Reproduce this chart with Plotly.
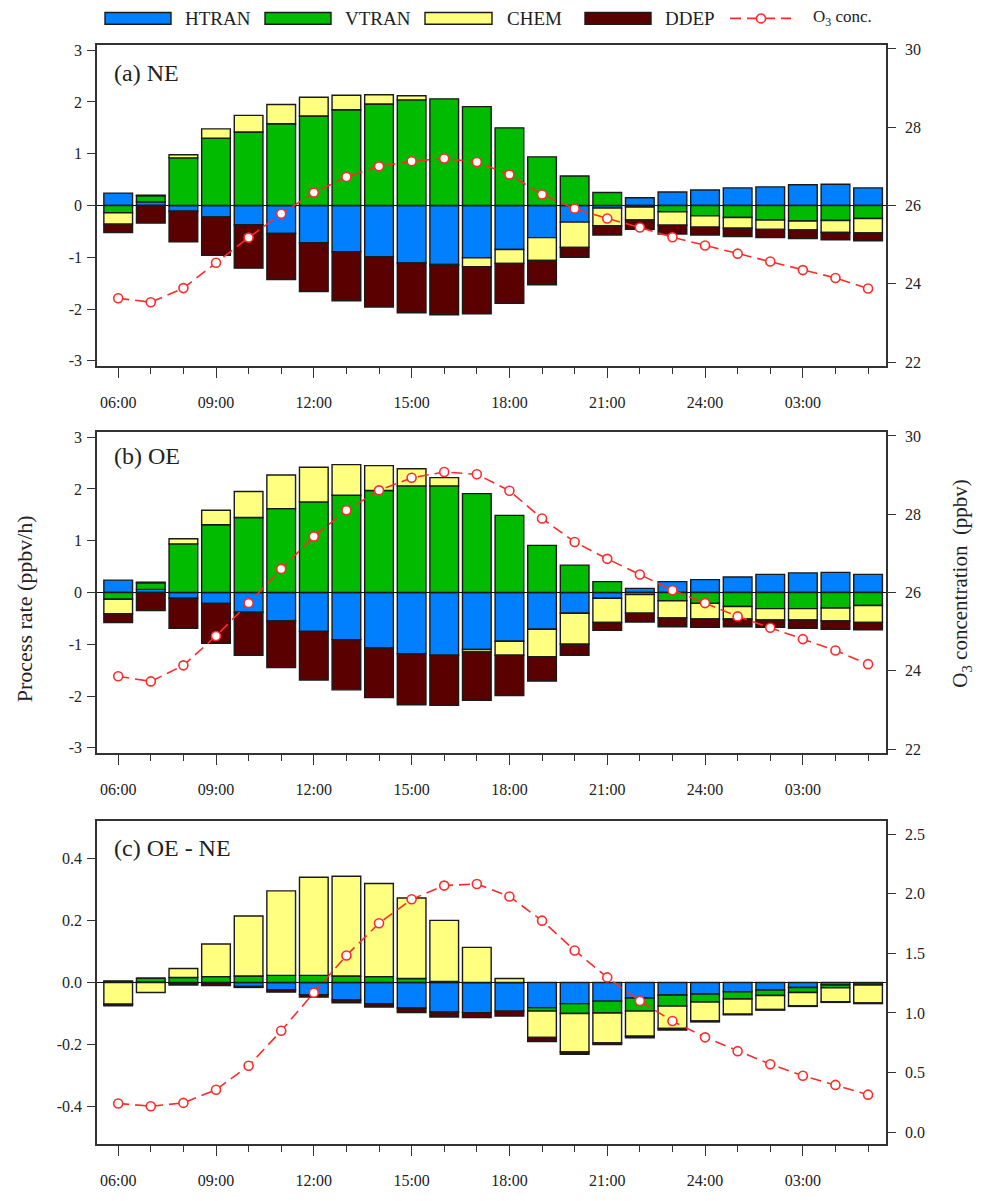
import plotly.graph_objects as go

hours = ['06:00', '07:00', '08:00', '09:00', '10:00', '11:00', '12:00', '13:00',
         '14:00', '15:00', '16:00', '17:00', '18:00', '19:00', '20:00', '21:00',
         '22:00', '23:00', '24:00', '01:00', '02:00', '03:00', '04:00', '05:00']
xi = list(range(len(hours)))

# (a) NE
ne_htran = [0.24, 0.07, -0.11, -0.22, -0.37, -0.54, -0.72, -0.89, -0.99, -1.11, -1.14, -1.01,
            -0.85, -0.62, -0.32, -0.05, 0.15, 0.26, 0.30, 0.34, 0.36, 0.40, 0.41, 0.34]
ne_vtran = [-0.14, 0.12, 0.92, 1.30, 1.42, 1.58, 1.73, 1.85, 1.96, 2.04, 2.06, 1.91,
            1.50, 0.94, 0.57, 0.25, -0.03, -0.12, -0.20, -0.23, -0.28, -0.30, -0.29, -0.25]
ne_chem = [-0.22, 0.01, 0.06, 0.18, 0.32, 0.37, 0.36, 0.28, 0.18, 0.08, -0.02, -0.17,
           -0.27, -0.44, -0.49, -0.34, -0.25, -0.26, -0.22, -0.21, -0.18, -0.17, -0.23, -0.28]
ne_ddep = [-0.16, -0.34, -0.59, -0.74, -0.84, -0.89, -0.94, -0.95, -0.97, -0.96, -0.95, -0.91,
           -0.77, -0.47, -0.19, -0.18, -0.18, -0.17, -0.15, -0.16, -0.16, -0.17, -0.14, -0.15]
ne_o3 = [23.63, 23.53, 23.89, 24.54, 25.18, 25.79, 26.33, 26.73, 27.00, 27.13, 27.20, 27.11,
         26.79, 26.28, 25.92, 25.67, 25.44, 25.19, 24.98, 24.77, 24.57, 24.35, 24.15, 23.88]

# (b) OE
oe_htran = [0.24, 0.06, -0.11, -0.21, -0.38, -0.55, -0.75, -0.91, -1.07, -1.18, -1.21, -1.10,
            -0.94, -0.71, -0.40, -0.11, 0.08, 0.21, 0.25, 0.30, 0.35, 0.38, 0.39, 0.35]
oe_vtran = [-0.13, 0.13, 0.94, 1.31, 1.45, 1.62, 1.75, 1.88, 1.97, 2.06, 2.06, 1.91,
            1.49, 0.91, 0.53, 0.21, -0.04, -0.16, -0.21, -0.27, -0.31, -0.31, -0.30, -0.25]
oe_chem = [-0.28, 0.01, 0.10, 0.28, 0.50, 0.65, 0.67, 0.59, 0.48, 0.33, 0.16, -0.05,
           -0.27, -0.53, -0.60, -0.47, -0.36, -0.33, -0.30, -0.24, -0.22, -0.22, -0.25, -0.33]
oe_ddep = [-0.17, -0.35, -0.58, -0.77, -0.83, -0.90, -0.94, -0.97, -0.96, -0.99, -0.97, -0.93,
           -0.78, -0.47, -0.21, -0.15, -0.17, -0.17, -0.16, -0.15, -0.14, -0.16, -0.16, -0.14]
oe_o3 = [23.86, 23.73, 24.14, 24.89, 25.73, 26.60, 27.43, 28.10, 28.61, 28.93, 29.08, 29.02,
         28.60, 27.89, 27.29, 26.86, 26.46, 26.06, 25.73, 25.39, 25.10, 24.81, 24.52, 24.17]

# (c) OE - NE
df_htran = [0.003, 0.002, -0.003, -0.003, -0.013, -0.023, -0.039, -0.056, -0.068, -0.082, -0.095, -0.097,
            -0.092, -0.081, -0.068, -0.060, -0.050, -0.040, -0.037, -0.030, -0.024, -0.016, -0.008, -0.002]
df_vtran = [0.002, 0.012, 0.016, 0.019, 0.021, 0.023, 0.023, 0.021, 0.019, 0.013, 0.003, 0.0,
            0.0, -0.011, -0.032, -0.038, -0.042, -0.036, -0.026, -0.023, -0.018, -0.016, -0.009, -0.006]
df_chem = [-0.070, -0.032, 0.029, 0.105, 0.193, 0.272, 0.316, 0.321, 0.300, 0.259, 0.197, 0.113,
           0.013, -0.085, -0.124, -0.097, -0.081, -0.072, -0.061, -0.049, -0.045, -0.043, -0.045, -0.058]
df_ddep = [-0.005, 0.0, -0.005, -0.007, -0.003, -0.008, -0.008, -0.009, -0.011, -0.015, -0.016, -0.016,
           -0.016, -0.013, -0.007, -0.005, -0.005, -0.005, -0.003, -0.002, -0.002, -0.002, -0.002, -0.002]
df_o3 = [0.240, 0.217, 0.245, 0.355, 0.556, 0.850, 1.169, 1.482, 1.752, 1.953, 2.068, 2.082,
         1.977, 1.774, 1.524, 1.298, 1.100, 0.932, 0.795, 0.679, 0.569, 0.473, 0.396, 0.314]

proc_names = ['HTRAN', 'VTRAN', 'CHEM', 'DDEP']
proc_colors = ['#0080FF', '#00BB00', '#FFFF80', '#5A0000']
o3_color = '#FF2A2A'

panels = [
    ('(a) NE', [ne_htran, ne_vtran, ne_chem, ne_ddep], ne_o3),
    ('(b) OE', [oe_htran, oe_vtran, oe_chem, oe_ddep], oe_o3),
    ('(c) OE - NE', [df_htran, df_vtran, df_chem, df_ddep], df_o3),
]

# page body has an 8px margin; work in window pixels and convert
OFF = 8
WIN_W, WIN_H = 985, 1201
W, H = WIN_W - OFF, WIN_H - OFF
PX0, PX1, PY0, PY1 = 97, 886, 45, 1161   # plot area in window pixels
L, R = PX0 - OFF, W - (PX1 - OFF)
T, B = PY0 - OFF, H - (PY1 - OFF)
PW, PH = PX1 - PX0, PY1 - PY0


def pxx(p):
    return (p - PX0) / PW


def pxy(p):
    return (PY1 - p) / PH


domains = [(pxy(371), 1.0), (pxy(764), pxy(438)), (0.0, pxy(833))]

FONT = 'Liberation Serif'
AX = '#333333'
TXT = '#222222'

fig = go.Figure()
for k, (label, procs, o3) in enumerate(panels):
    xa = 'x' if k == 0 else f'x{k + 1}'
    yl = f'y{2 * k + 1}' if k > 0 else 'y'
    yr = f'y{2 * k + 2}'
    for name, vals, col in zip(proc_names, procs, proc_colors):
        fig.add_trace(go.Bar(x=xi, y=vals, name=name,
                             marker=dict(color=col, line=dict(color='#1a1a1a', width=1.4)),
                             width=0.88, xaxis=xa, yaxis=yl, showlegend=False))
    fig.add_trace(go.Scatter(x=xi, y=o3, mode='lines+markers', name='O3 conc.',
                             line=dict(color=o3_color, width=1.6, dash='11px,6px'),
                             marker=dict(symbol='circle', size=9, color='white',
                                         line=dict(color=o3_color, width=1.6)),
                             xaxis=xa, yaxis=yr, showlegend=False))

tickvals = xi[::3]
ticktext = hours[::3]
tfont = dict(family=FONT, size=16, color=TXT)
xcommon = dict(range=[-0.65, 23.55], tickvals=tickvals, ticktext=ticktext, ticks='outside', ticklen=10,
               tickwidth=1.4, tickcolor=AX, showline=True, linecolor=AX, linewidth=1.5, mirror=True,
               showgrid=False, zeroline=False, tickfont=tfont, ticklabelstandoff=11,
               minor=dict(dtick=1, tick0=0, ticks='outside', ticklen=6, tickcolor=AX, tickwidth=1.2,
                          showgrid=False))

layout = dict(width=W, height=H, margin=dict(l=L, r=R, t=T, b=B, pad=0), barmode='relative',
              plot_bgcolor='white', paper_bgcolor='white', showlegend=False,
              font=dict(family=FONT, color=TXT))


def fmt(v, d):
    s = f'{v:.{d}f}'
    return s.replace('\u2212', '-')


lranges = [[-3.1, 3.1], [-3.1, 3.1], [-0.52, 0.52]]
rranges = [[21.9, 30.1], [21.9, 30.1], [-0.1, 2.61]]
lvals = [[-3, -2, -1, 0, 1, 2, 3], [-3, -2, -1, 0, 1, 2, 3], [-0.4, -0.2, 0.0, 0.2, 0.4]]
rvals = [[22, 24, 26, 28, 30], [22, 24, 26, 28, 30], [0.0, 0.5, 1.0, 1.5, 2.0, 2.5]]
ldec = [0, 0, 1]
rdec = [0, 0, 1]

for k in range(3):
    xkey = 'xaxis' if k == 0 else f'xaxis{k + 1}'
    ylkey = 'yaxis' if k == 0 else f'yaxis{2 * k + 1}'
    yrkey = f'yaxis{2 * k + 2}'
    yl_name = 'y' if k == 0 else f'y{2 * k + 1}'
    xa = 'x' if k == 0 else f'x{k + 1}'
    layout[xkey] = dict(xcommon, anchor=yl_name, domain=[0, 1])
    layout[ylkey] = dict(range=lranges[k], domain=list(domains[k]), anchor=xa, ticks='outside', ticklen=8,
                         tickwidth=1.4, tickcolor=AX, showline=True, linecolor=AX, linewidth=1.5, mirror=True,
                         showgrid=False, zeroline=True, zerolinecolor='#111', zerolinewidth=1.3,
                         tickfont=tfont, ticklabelstandoff=2,
                         tickvals=lvals[k], ticktext=[fmt(v, ldec[k]) for v in lvals[k]])
    layout[yrkey] = dict(range=rranges[k], overlaying=yl_name, side='right', anchor=xa, ticks='outside',
                         ticklen=8, tickwidth=1.4, tickcolor=AX, showline=True, linecolor=AX, linewidth=1.5,
                         showgrid=False, zeroline=False, tickfont=tfont, ticklabelstandoff=6,
                         tickvals=rvals[k], ticktext=[fmt(v, rdec[k]) for v in rvals[k]])

fig.update_layout(**layout)

# panel labels
label_pos = [(112, 73), (112, 462), (112, 860)]
for (label, _, _), (lx, ly) in zip(panels, label_pos):
    fig.add_annotation(text=label, xref='paper', yref='paper', x=pxx(lx), y=pxy(ly),
                       xanchor='left', yanchor='middle', showarrow=False,
                       font=dict(family=FONT, size=24, color=TXT))

# axis titles
fig.add_annotation(text='Process rate (ppbv/h)', xref='paper', yref='paper', x=pxx(24), y=pxy(618),
                   textangle=-90, showarrow=False, xanchor='center', yanchor='middle',
                   font=dict(family=FONT, size=22, color=TXT))
fig.add_annotation(text='O<sub>3</sub> concentration  (ppbv)', xref='paper', yref='paper', x=pxx(961),
                   y=pxy(592), textangle=-90, showarrow=False, xanchor='center', yanchor='middle',
                   font=dict(family=FONT, size=21, color=TXT))

# custom legend
boxes = [(105, 171, 183), (265, 331, 343), (425, 492, 505), (585, 651, 663)]
shapes = []
for (x0, x1, tx), name, col in zip(boxes, proc_names, proc_colors):
    shapes.append(dict(type='rect', xref='paper', yref='paper', x0=pxx(x0), x1=pxx(x1),
                       y0=pxy(24), y1=pxy(12), fillcolor=col, line=dict(color='#1a1a1a', width=1.4)))
    fig.add_annotation(text=name, xref='paper', yref='paper', x=pxx(tx), y=pxy(18), xanchor='left',
                       yanchor='middle', showarrow=False, font=dict(family=FONT, size=19, color=TXT))
shapes.append(dict(type='line', xref='paper', yref='paper', x0=pxx(730), x1=pxx(791), y0=pxy(18), y1=pxy(18),
                   line=dict(color=o3_color, width=1.6, dash='11px,6px')))
shapes.append(dict(type='circle', xref='paper', yref='paper', x0=pxx(756.5), x1=pxx(765.5), y0=pxy(22.5),
                   y1=pxy(13.5), fillcolor='white', line=dict(color=o3_color, width=1.6)))
fig.add_annotation(text='O<sub>3</sub> conc.', xref='paper', yref='paper', x=pxx(811), y=pxy(18), xanchor='left',
                   yanchor='middle', showarrow=False, font=dict(family=FONT, size=17, color=TXT))
fig.update_layout(shapes=shapes)

fig.write_html('out.html')
